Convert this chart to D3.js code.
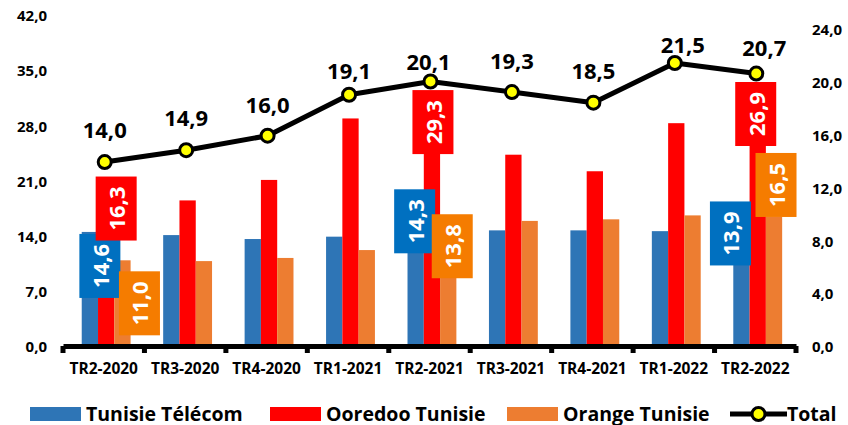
<!DOCTYPE html>
<html>
<head>
<meta charset="utf-8">
<script src="https://cdn.jsdelivr.net/npm/d3@7"></script>
<style>
  body { margin: 0; background: #fff; }
  svg { display: block; font-family: "Open Sans", Lato, sans-serif; font-weight: bold; }
</style>
</head>
<body>
<div id="chart"></div>
<script>
// data
const quarters = ["TR2-2020", "TR3-2020", "TR4-2020", "TR1-2021", "TR2-2021", "TR3-2021", "TR4-2021", "TR1-2022", "TR2-2022"];
const telecom = [14.6, 14.2, 13.7, 14.0, 14.3, 14.8, 14.8, 14.7, 13.9];
const ooredoo = [16.3, 18.6, 21.2, 29.0, 29.3, 24.4, 22.3, 28.4, 26.9];
const orange = [11.0, 10.9, 11.3, 12.3, 13.8, 16.0, 16.2, 16.7, 16.5];
const total = [14.0, 14.9, 16.0, 19.1, 20.1, 19.3, 18.5, 21.5, 20.7];
const leftTicks = [0, 7, 14, 21, 28, 35, 42];
const rightTicks = [0, 4, 8, 12, 16, 20, 24];
const seriesNames = ["Tunisie Télécom", "Ooredoo Tunisie", "Orange Tunisie"];
const barColors = ["#2E75B6", "#FF0000", "#ED7D31"];
const boxColors = ["#0070C0", "#FF0000", "#F57C00"];

// which bars get a boxed label, and where the box sits relative to the bar top (moved by hand in the original)
const boxedLabels = [
  {q: 0, s: 0, dx: 10, dy: 34}, {q: 0, s: 1, dx: 10, dy: -10}, {q: 0, s: 2, dx: 17, dy: 43},
  {q: 4, s: 0, dx: -1, dy: -13}, {q: 4, s: 1, dx: 1, dy: 6}, {q: 4, s: 2, dx: 4, dy: 8},
  {q: 8, s: 0, dx: -11, dy: -4}, {q: 8, s: 1, dx: -2, dy: -21}, {q: 8, s: 2, dx: 2, dy: -32}
];
const totalLabelShift = [[0, -33], [0, -33], [0, -32], [0, -25], [-2, -21], [0, -32], [0, -33], [8, -19], [8, -27]];
const legendX = [30, 270, 507, 730];

const W = 848, H = 425;
const fmt = v => v.toFixed(1).replace(".", ",");

const svg = d3.select("#chart").append("svg").attr("width", W).attr("height", H);

const x0 = d3.scaleBand().domain(quarters).range([63, 796]);
const bw = x0.bandwidth();
const x1 = d3.scaleBand().domain([0, 1, 2]).range([bw * 0.23, bw * 0.83]);
const yL = d3.scaleLinear().domain([0, 42]).range([347, 16]);
const yR = d3.scaleLinear().domain([0, 24]).range([347, 30]);

function styleText(sel, size) {
  sel.attr("font-size", size).attr("font-family", "'Open Sans', Lato, sans-serif")
    .attr("font-weight", "bold").attr("fill", "#000");
}

// axis labels (no axis lines on the sides)
const leftAxis = d3.axisLeft(yL).tickValues(leftTicks).tickFormat(fmt).tickSize(0).tickPadding(0);
const gl = svg.append("g").attr("transform", "translate(47,0)").call(leftAxis);
gl.select(".domain").remove();
styleText(gl.selectAll("text"), 15);

const rightAxis = d3.axisRight(yR).tickValues(rightTicks).tickFormat(fmt).tickSize(0).tickPadding(0);
const gr = svg.append("g").attr("transform", "translate(812,0)").call(rightAxis);
gr.select(".domain").remove();
styleText(gr.selectAll("text"), 15);

// bars
const series = [telecom, ooredoo, orange];
const rows = [];
quarters.forEach((q, i) => series.forEach((arr, s) => rows.push({q: q, i: i, s: s, v: arr[i]})));

svg.append("g").selectAll("rect").data(rows).enter().append("rect")
  .attr("x", d => x0(d.q) + x1(d.s))
  .attr("width", x1.bandwidth())
  .attr("y", d => yL(d.v))
  .attr("height", d => yL(0) - yL(d.v))
  .attr("fill", d => barColors[d.s]);

// bottom axis: thick line with small ticks at category edges
const xAxis = d3.axisBottom(x0).tickSize(0).tickPadding(17);
const gx = svg.append("g").attr("transform", "translate(0,346)").call(xAxis);
gx.select(".domain").attr("stroke", "#000").attr("stroke-width", 5);
styleText(gx.selectAll("text"), 15.5);
const edges = quarters.map(q => x0(q)).concat([x0.range()[1]]);
gx.selectAll("rect.edge").data(edges).enter().append("rect")
  .attr("class", "edge")
  .attr("x", d => d - 2.5).attr("y", 0).attr("width", 5).attr("height", 7)
  .attr("fill", "#000");

// total line
const px = (d, i) => x0(quarters[i]) + bw / 2 + 1;
const line = d3.line().x(px).y(d => yR(d));
svg.append("path").datum(total).attr("d", line)
  .attr("fill", "none").attr("stroke", "#000").attr("stroke-width", 5).attr("stroke-linejoin", "round");
svg.append("g").selectAll("circle").data(total).enter().append("circle")
  .attr("cx", px).attr("cy", d => yR(d)).attr("r", 6.5)
  .attr("fill", "#FFFF00").attr("stroke", "#000").attr("stroke-width", 3);
svg.append("g").selectAll("text").data(total).enter().append("text")
  .attr("x", (d, i) => px(d, i) + totalLabelShift[i][0])
  .attr("y", (d, i) => yR(d) + totalLabelShift[i][1])
  .attr("text-anchor", "middle").attr("dominant-baseline", "central")
  .attr("font-size", 22).attr("fill", "#000")
  .text(fmt);

// boxed value labels
const lab = svg.append("g").selectAll("g").data(boxedLabels).enter().append("g")
  .attr("transform", d => {
    const cx = x0(quarters[d.q]) + x1(d.s) + x1.bandwidth() / 2 + d.dx;
    const cy = yL(series[d.s][d.q]) + d.dy;
    return "translate(" + cx + "," + cy + ")";
  });
lab.append("rect").attr("x", -20.5).attr("y", -32).attr("width", 41).attr("height", 64)
  .attr("fill", d => boxColors[d.s]);
lab.append("text").attr("transform", "rotate(-90)")
  .attr("text-anchor", "middle").attr("dominant-baseline", "central")
  .attr("font-size", 22).attr("fill", "#fff")
  .text(d => fmt(series[d.s][d.q]));

// legend
const leg = svg.append("g").attr("transform", "translate(0,413)");
seriesNames.forEach((name, s) => {
  leg.append("rect").attr("x", legendX[s]).attr("y", -6).attr("width", 51).attr("height", 14).attr("fill", barColors[s]);
  leg.append("text").attr("x", legendX[s] + 56).attr("y", 0).attr("dominant-baseline", "central")
    .attr("font-size", 19.5).attr("fill", "#000").text(name);
});
const lx = legendX[3];
leg.append("line").attr("x1", lx).attr("x2", lx + 57).attr("y1", 1).attr("y2", 1)
  .attr("stroke", "#000").attr("stroke-width", 5);
leg.append("circle").attr("cx", lx + 28.5).attr("cy", 1).attr("r", 6.5)
  .attr("fill", "#FFFF00").attr("stroke", "#000").attr("stroke-width", 3);
leg.append("text").attr("x", lx + 57).attr("y", 0).attr("dominant-baseline", "central")
  .attr("font-size", 19.5).attr("fill", "#000").text("Total");
</script>
</body>
</html>
